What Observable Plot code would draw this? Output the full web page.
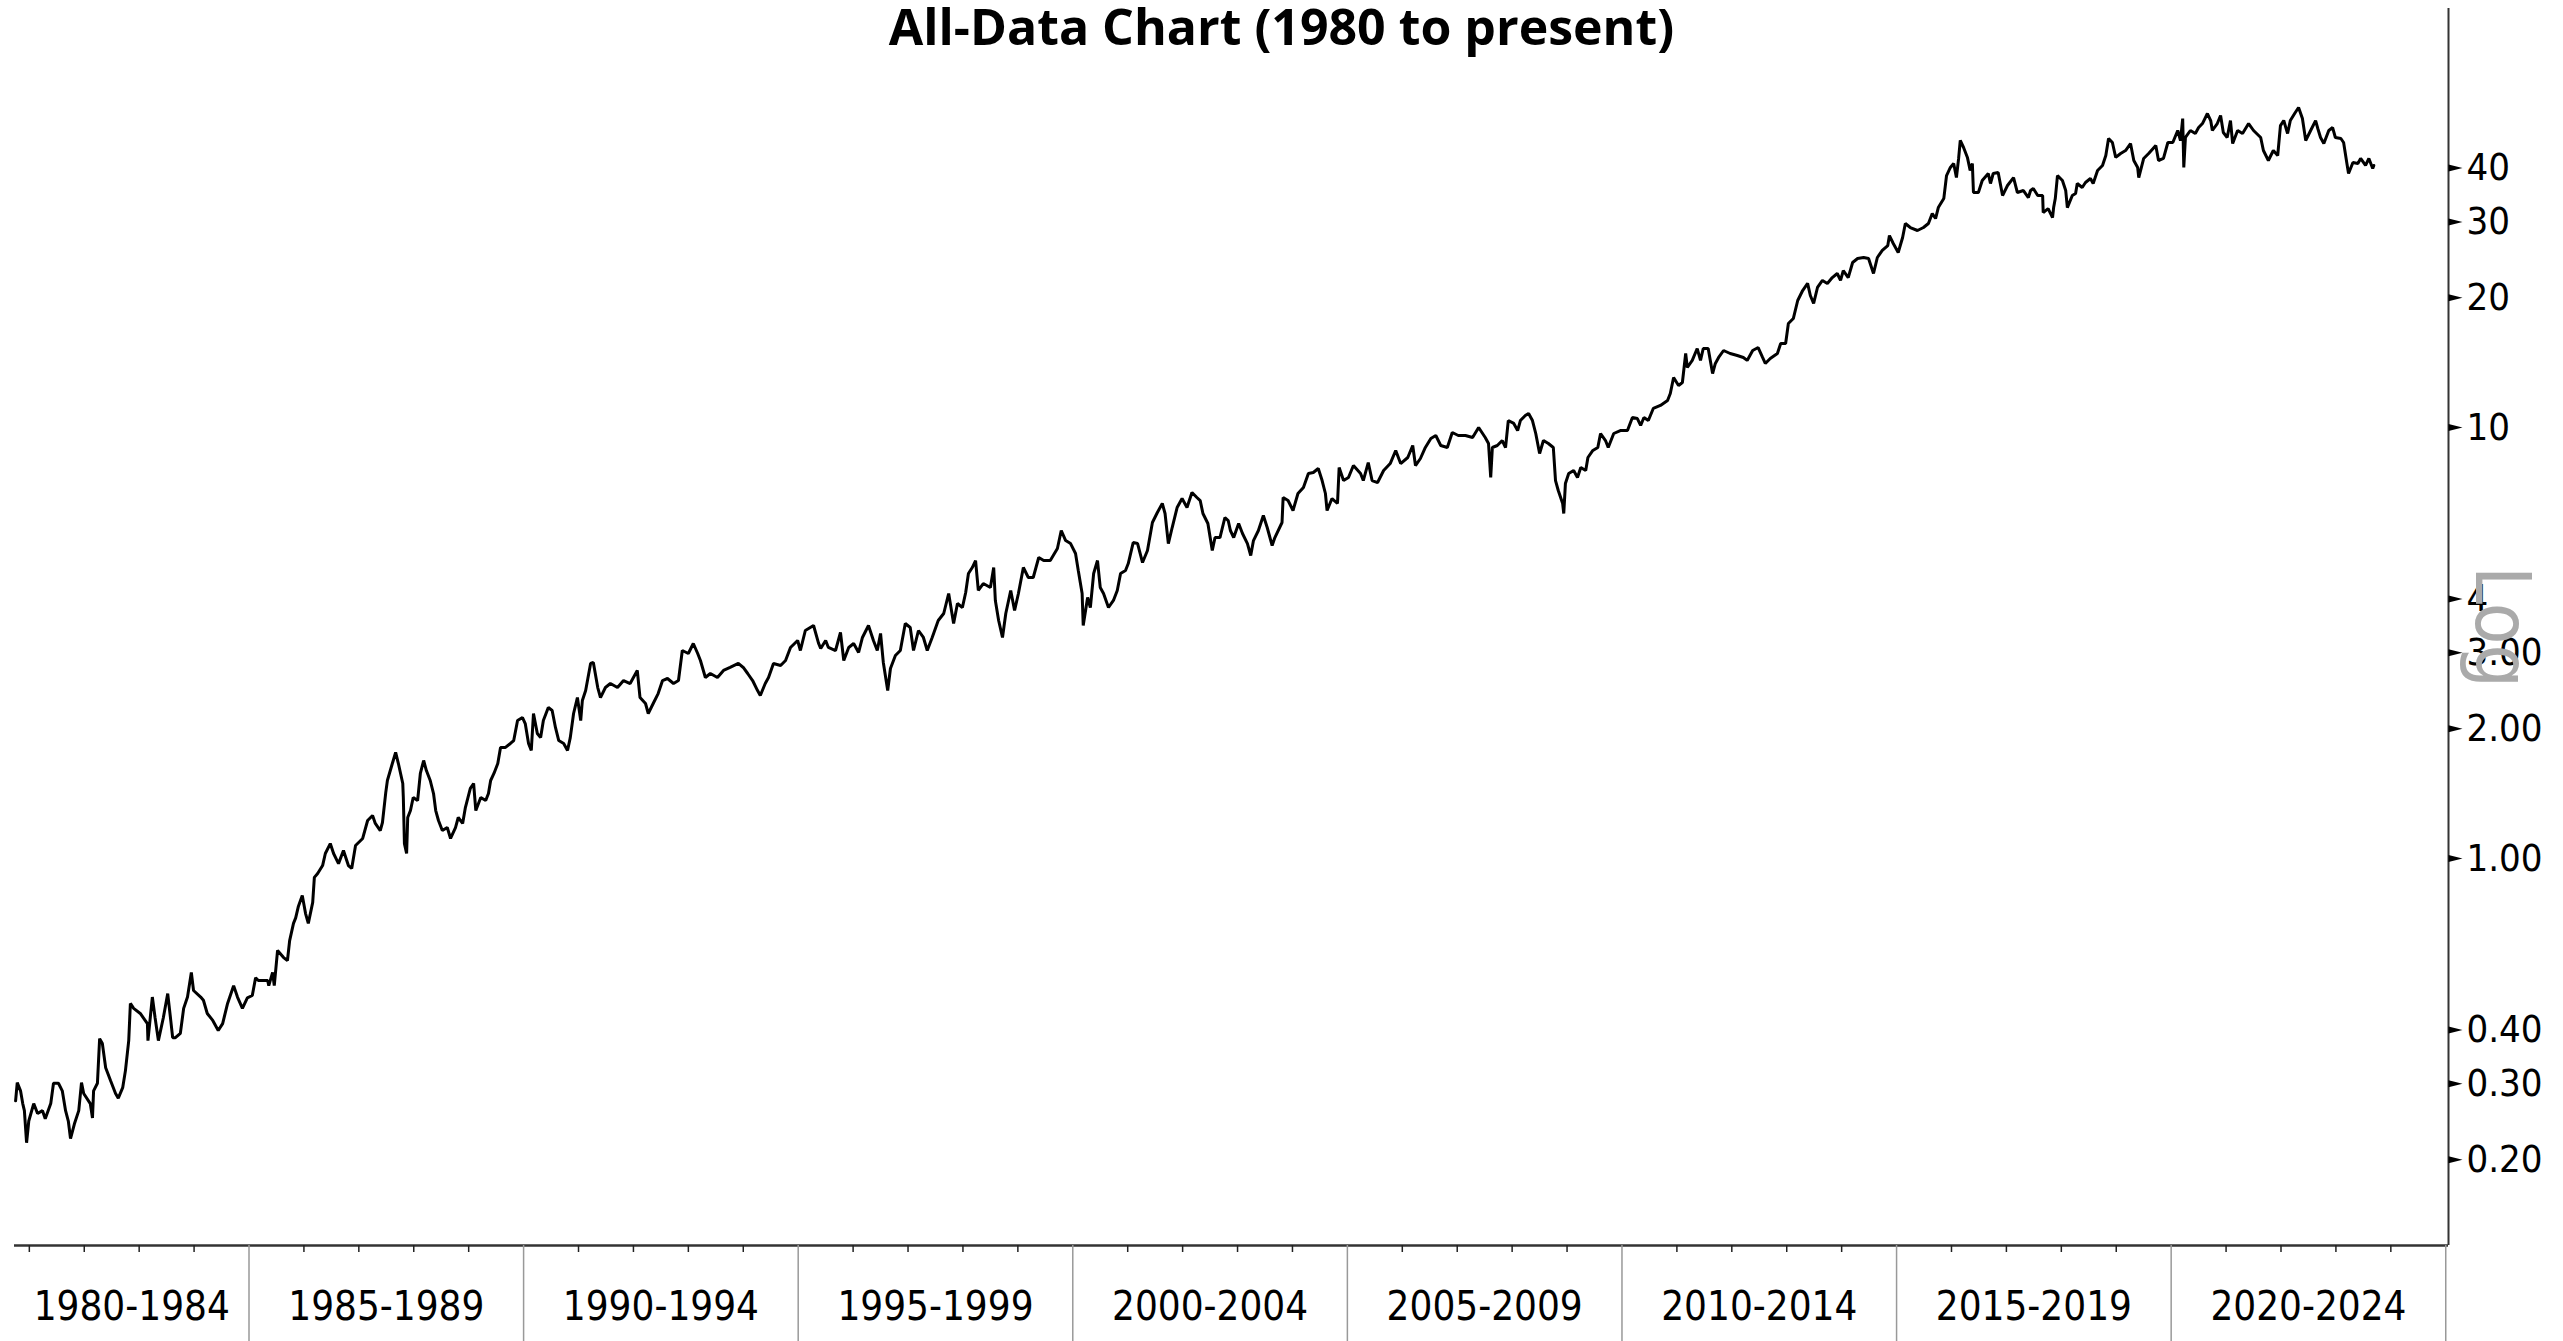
<!DOCTYPE html>
<html>
<head>
<meta charset="utf-8">
<script src="https://cdn.jsdelivr.net/npm/d3@7"></script>
<script src="https://cdn.jsdelivr.net/npm/@observablehq/plot@0.6"></script>
<style>
  html, body { margin: 0; padding: 0; background: #fff; }
  #wrap { position: relative; width: 2563px; height: 1341px; overflow: hidden; }
  #title { position: absolute; left: 0; top: 1px; width: 2563px; text-align: center;
           font-family: "Open Sans", "Liberation Sans", sans-serif; font-weight: 700;
           font-size: 50px; line-height: 50px; color: #000; }
  #chart { position: absolute; left: 0; top: 0; }
</style>
</head>
<body>
<div id="wrap">
  <div id="chart"></div>
  <div id="title"></div>
</div>
<script>
// ---- data (decimal year, price) ----
const years = [
1980.75,1980.78,1980.84,1980.88,1980.91,1980.95,1980.99,1981.08,1981.15,1981.24,1981.29,1981.39,1981.44,1981.53,1981.60,1981.66,1981.71,1981.75,1981.82,1981.90,1981.95,1981.99,
1982.11,1982.15,1982.17,1982.24,1982.28,1982.33,1982.39,1982.48,1982.57,1982.62,1982.70,1982.75,1982.81,1982.84,1982.90,1983.02,1983.15,1983.16,1983.24,1983.29,1983.35,1983.44,1983.52,1983.57,1983.61,1983.66,1983.75,1983.81,1983.88,1983.95,1983.99,
1984.12,1984.17,1984.24,1984.34,1984.44,1984.52,1984.61,1984.72,1984.79,1984.88,1984.97,1985.06,1985.12,1985.17,1985.34,1985.36,1985.43,1985.46,1985.52,1985.63,1985.70,1985.74,1985.81,1985.85,1985.90,1985.97,
1986.03,1986.08,1986.16,1986.19,1986.25,1986.34,1986.39,1986.48,1986.54,1986.63,1986.72,1986.81,1986.87,1986.94,1987.07,1987.16,1987.25,1987.30,1987.39,1987.43,1987.49,1987.52,1987.61,1987.67,1987.72,1987.80,1987.81,1987.83,1987.87,1987.89,
1987.94,1987.99,1988.07,1988.12,1988.18,1988.23,1988.30,1988.36,1988.40,1988.45,1988.52,1988.61,1988.67,1988.76,1988.81,1988.89,1988.94,1989.03,1989.09,1989.13,1989.22,1989.31,1989.36,1989.40,1989.46,1989.53,1989.58,1989.67,1989.76,1989.82,1989.89,1989.98,
1990.03,1990.09,1990.14,1990.18,1990.25,1990.31,1990.36,1990.45,1990.52,1990.58,1990.64,1990.73,1990.80,1990.85,1990.91,1990.98,1991.04,1991.07,1991.13,1991.22,1991.27,1991.35,1991.40,1991.49,1991.58,1991.71,1991.82,1991.94,
1992.07,1992.12,1992.22,1992.27,1992.36,1992.45,1992.53,1992.62,1992.73,1992.82,1992.89,1993.00,1993.09,1993.17,1993.22,1993.31,1993.40,1993.53,1993.64,1993.76,1993.91,1994.00,1994.08,1994.17,1994.26,1994.31,1994.40,1994.46,1994.55,1994.68,1994.77,1994.86,1994.99,
1995.04,1995.13,1995.28,1995.37,1995.41,1995.50,1995.55,1995.68,1995.77,1995.83,1995.92,1996.01,1996.10,1996.17,1996.28,1996.37,1996.44,1996.50,1996.55,1996.63,1996.68,1996.77,1996.86,1996.95,
1997.04,1997.10,1997.19,1997.28,1997.35,1997.44,1997.55,1997.65,1997.74,1997.83,1997.90,1997.99,1998.05,1998.10,1998.17,1998.23,1998.28,1998.37,1998.50,1998.56,1998.59,1998.65,1998.72,1998.78,1998.87,1998.94,
1999.01,1999.10,1999.19,1999.28,1999.38,1999.47,1999.59,1999.72,1999.79,1999.87,1999.96,2000.05,2000.10,2000.17,2000.19,2000.27,2000.32,2000.38,2000.45,2000.50,2000.56,2000.65,2000.74,2000.81,2000.87,2000.96,
2001.01,2001.10,2001.18,2001.27,2001.36,2001.45,2001.54,2001.63,2001.68,2001.74,2001.81,2001.90,2001.99,2002.08,2002.17,2002.26,2002.32,2002.37,2002.46,2002.54,2002.59,2002.68,2002.77,2002.83,
2002.87,2002.93,2003.02,2003.09,2003.18,2003.24,2003.29,2003.38,2003.47,2003.54,2003.63,2003.68,2003.81,2003.83,2003.92,2004.01,2004.10,2004.20,2004.29,2004.38,2004.47,2004.54,2004.60,2004.63,2004.72,2004.82,2004.85,2004.93,
2005.02,2005.11,2005.24,2005.29,2005.38,2005.45,2005.55,2005.66,2005.78,2005.88,2005.97,2006.10,2006.19,2006.24,2006.33,2006.42,2006.52,2006.61,2006.70,2006.82,2006.91,2007.02,2007.15,2007.28,2007.39,2007.51,2007.57,2007.61,2007.64,2007.73,2007.82,2007.88,2007.93,
2008.03,2008.10,2008.15,2008.24,2008.30,2008.37,2008.43,2008.50,2008.57,2008.66,2008.75,2008.79,2008.84,2008.92,2008.94,2008.97,2009.03,2009.12,2009.19,2009.25,2009.34,2009.38,2009.47,2009.56,2009.61,2009.70,2009.75,2009.85,2009.97,
2010.10,2010.19,2010.28,2010.34,2010.40,2010.48,2010.57,2010.70,2010.83,2010.88,2010.94,2011.03,2011.10,2011.16,2011.19,2011.28,2011.37,2011.43,2011.48,2011.57,2011.65,2011.70,2011.76,2011.85,2011.97,
2012.10,2012.21,2012.28,2012.38,2012.48,2012.56,2012.61,2012.70,2012.83,2012.89,2012.98,2013.03,2013.12,2013.20,2013.29,2013.38,2013.43,2013.49,2013.56,2013.65,2013.74,2013.83,2013.92,2013.98,
2014.03,2014.12,2014.20,2014.29,2014.40,2014.49,2014.58,2014.65,2014.74,2014.84,2014.87,2014.94,2015.03,2015.11,2015.16,2015.25,2015.38,2015.49,2015.58,2015.65,2015.71,2015.76,2015.86,2015.91,2015.98,
2016.04,2016.09,2016.13,2016.16,2016.22,2016.29,2016.34,2016.38,2016.40,2016.49,2016.56,2016.67,2016.71,2016.76,2016.85,2016.93,2017.02,2017.13,2017.20,2017.31,2017.40,2017.44,2017.49,2017.57,2017.66,2017.67,2017.76,2017.84,2017.86,2017.89,2017.93,
2018.02,2018.08,2018.11,2018.20,2018.26,2018.29,2018.38,2018.44,2018.53,2018.58,2018.66,2018.75,2018.81,2018.86,2018.93,2018.99,2019.08,2019.17,2019.26,2019.32,2019.39,2019.41,2019.50,2019.59,2019.72,2019.77,2019.86,2019.94,
2020.03,2020.12,2020.17,2020.21,2020.23,2020.26,2020.35,2020.44,2020.50,2020.57,2020.66,2020.72,2020.75,2020.84,2020.90,2020.95,2021.02,2021.08,2021.12,2021.21,2021.30,2021.41,2021.50,2021.63,2021.68,2021.77,2021.86,2021.94,2021.99,
2022.05,2022.12,2022.17,2022.26,2022.32,2022.39,2022.45,2022.54,2022.63,2022.67,2022.72,2022.78,2022.87,2022.94,2022.99,2023.09,2023.14,2023.20,2023.23,2023.31,2023.40,2023.45,2023.54,2023.60,2023.67,2023.69
];
const prices = [
0.274,0.302,0.289,0.270,0.260,0.219,0.246,0.270,0.256,0.260,0.249,0.270,0.301,0.301,0.289,0.260,0.246,0.224,0.242,0.260,0.302,0.285,
0.270,0.250,0.289,0.301,0.382,0.372,0.327,0.305,0.285,0.278,0.294,0.322,0.378,0.461,0.449,0.437,0.414,0.378,0.477,0.427,0.378,0.427,0.486,0.427,0.384,0.384,0.393,0.449,0.477,0.544,0.494,
0.477,0.469,0.437,0.421,0.399,0.414,0.461,0.507,0.477,0.449,0.475,0.481,0.529,0.521,0.521,0.507,0.544,0.507,0.612,0.589,0.580,0.645,0.707,0.728,0.775,0.821,
0.745,0.707,0.791,0.904,0.923,0.963,1.027,1.083,1.027,0.973,1.044,0.963,0.948,1.072,1.113,1.225,1.258,1.206,1.161,1.212,1.422,1.517,1.661,1.762,1.661,1.493,1.385,1.083,1.027,1.245,
1.292,1.385,1.363,1.575,1.688,1.600,1.517,1.415,1.292,1.225,1.161,1.180,1.113,1.180,1.245,1.206,1.313,1.454,1.493,1.292,1.385,1.363,1.415,1.517,1.575,1.661,1.810,1.810,1.849,1.878,2.090,2.124,
2.057,1.849,1.781,2.170,1.950,1.908,2.090,2.240,2.205,2.014,1.878,1.849,1.781,1.908,2.170,2.363,2.090,2.326,2.453,2.835,2.850,2.493,2.363,2.493,2.547,2.493,2.588,2.547,
2.731,2.363,2.289,2.170,2.289,2.414,2.588,2.616,2.547,2.588,3.038,2.990,3.154,2.990,2.880,2.630,2.687,2.630,2.731,2.775,2.835,2.775,2.687,2.588,2.453,2.389,2.547,2.630,2.835,2.804,2.880,3.088,3.205,
3.038,3.381,3.472,3.160,3.071,3.205,3.088,3.038,3.345,2.880,3.088,3.154,3.006,3.257,3.472,3.205,3.038,3.327,2.850,2.453,2.759,2.958,3.038,3.510,
3.436,3.038,3.381,3.257,3.038,3.257,3.566,3.702,4.120,3.510,3.905,3.823,4.143,4.584,4.733,4.913,4.187,4.345,4.255,4.733,3.969,3.566,3.257,3.702,4.187,3.762,
4.120,4.733,4.487,4.487,4.993,4.913,4.913,5.238,5.768,5.467,5.380,5.101,4.658,4.120,3.472,4.033,3.823,4.584,4.913,4.255,4.120,3.823,3.969,4.187,4.584,4.658,
4.835,5.409,5.380,4.861,5.183,6.020,6.350,6.663,6.317,5.380,5.861,6.522,6.843,6.522,7.066,6.880,6.770,6.317,5.988,5.183,5.555,5.555,6.183,6.084,
5.768,5.555,5.988,5.676,5.380,5.047,5.467,5.768,6.249,5.861,5.323,5.555,6.020,6.880,6.770,6.419,7.029,7.259,7.821,7.862,8.032,7.533,7.029,6.419,6.843,6.663,8.075,7.533,
7.656,8.161,7.821,7.533,8.294,7.533,7.453,7.946,8.249,8.845,8.249,8.520,9.084,8.161,8.474,8.988,9.430,9.581,9.084,8.988,9.737,9.581,9.581,9.480,10.00,9.480,9.182,7.656,8.988,9.084,9.328,8.988,10.38,
10.22,9.840,10.38,10.66,10.78,10.38,9.685,8.704,9.328,9.182,8.988,7.533,7.143,6.663,6.317,7.413,7.821,7.946,7.656,8.075,7.946,8.520,8.845,8.988,9.685,9.328,8.988,9.685,9.840,
9.840,10.55,10.49,10.11,10.55,10.38,11.07,11.25,11.55,11.99,13.06,12.52,12.72,14.85,13.78,14.31,15.25,14.31,15.25,15.25,13.34,14.08,14.54,15.09,14.85,
14.69,14.54,14.31,15.09,15.33,14.54,14.08,14.46,14.85,15.66,15.66,17.43,17.90,19.71,20.79,21.59,20.24,19.40,21.13,21.94,21.59,22.28,22.77,21.94,
23.13,22.28,24.15,24.67,24.80,24.67,22.77,24.80,25.75,26.44,27.89,26.73,25.47,27.60,29.74,29.11,28.65,29.11,29.74,31.36,30.54,32.38,33.98,38.43,40.12,
40.99,38.02,42.10,46.34,44.64,42.33,39.48,40.99,35.09,35.09,37.42,38.85,36.83,38.85,39.06,34.53,36.43,38.02,35.09,35.47,34.16,35.47,35.85,34.53,34.53,31.53,32.21,30.70,32.38,33.98,38.43,
37.42,35.47,32.38,34.53,34.91,36.83,36.05,37.03,37.82,36.83,39.48,40.55,42.77,46.83,45.84,42.33,43.23,43.92,45.60,41.64,40.12,38.02,42.10,43.23,45.11,41.64,42.10,45.84,
45.84,48.88,46.34,52.10,40.12,47.09,48.88,48.10,49.66,50.73,53.52,51.55,48.88,50.73,52.96,48.36,47.09,51.55,45.60,48.88,48.10,50.73,48.88,47.09,43.92,41.64,43.92,42.77,50.19,
51.55,48.10,51.55,53.81,55.26,52.10,46.34,48.88,51.55,49.40,47.09,45.60,48.88,49.66,47.09,46.83,45.84,40.99,38.85,41.20,40.99,42.10,40.55,42.10,39.90,40.55
];

// axis content
const yTickValues = [0.2, 0.3, 0.4, 1, 2, 3, 4, 10, 20, 30, 40];
const yTickLabels = ["0.20", "0.30", "0.40", "1.00", "2.00", "3.00", "4", "10", "20", "30", "40"];
const groupStarts = [1980, 1985, 1990, 1995, 2000, 2005, 2010, 2015, 2020];
const groupLabels = ["1980-1984", "1985-1989", "1990-1994", "1995-1999", "2000-2004", "2005-2009", "2010-2014", "2015-2019", "2020-2024"];
const title = "All-Data Chart (1980 to present)";
const axisLabel = "Log";

// scale domains
const xDomain = [1980.73, 2025.05];
const yDomain = [0.1265, 93.8];

// ---- build ----
const data = years.map((y, i) => ({year: y, price: prices[i]}));
const yTicks = yTickValues.map((v, i) => ({value: v, label: yTickLabels[i]}));
const groupEdges = groupStarts.slice(1).concat([groupStarts[groupStarts.length - 1] + 5]);
const minorYears = d3.range(1981, 2025).filter(y => y % 5 !== 0);
const groups = groupStarts.map((s, i) => ({
  label: groupLabels[i],
  mid: (Math.max(s, xDomain[0]) + Math.min(s + 5, xDomain[1])) / 2
}));

const wedge = {
  draw(ctx, size) {
    const r = Math.sqrt(size / Math.PI);
    ctx.moveTo(0, -0.7 * r);
    ctx.lineTo(2.8 * r, 0);
    ctx.lineTo(0, 0.7 * r);
    ctx.closePath();
  }
};

const tickFont = '"DejaVu Sans Condensed", "DejaVu Sans", sans-serif';

const chart = Plot.plot({
  width: 2563,
  height: 1341,
  marginTop: 8,
  marginBottom: 96,
  marginLeft: 14,
  marginRight: 115,
  x: {type: "linear", domain: xDomain},
  y: {type: "log", domain: yDomain, axis: null},
  style: {background: "#fff", fontFamily: tickFont, overflow: "visible", color: "#000"},
  marks: [
    Plot.line(data, {x: "year", y: "price", stroke: "#000", strokeWidth: 3, strokeLinejoin: "miter"}),
    Plot.ruleY([yDomain[0]], {stroke: "#333", strokeWidth: 2.5}),
    Plot.ruleX([xDomain[1]], {stroke: "#333", strokeWidth: 2}),
    Plot.axisX({ticks: minorYears, tickSize: 7, tickFormat: () => "", stroke: "#222", strokeWidth: 1.5, label: null}),
    Plot.axisX({ticks: groupEdges, tickSize: 96, tickFormat: () => "", stroke: "#999", strokeWidth: 1.5, label: null}),
    Plot.text(groups, {x: "mid", text: "label", frameAnchor: "bottom", dy: 74, fontSize: 40, fill: "#000", fontFamily: tickFont}),
    Plot.dot(yTicks, {x: () => xDomain[1], y: "value", symbol: wedge, r: 5, fill: "#000", stroke: null}),
    Plot.text(yTicks, {y: "value", text: "label", frameAnchor: "right", dx: 18, textAnchor: "start", fontSize: 38, fill: "#000", fontFamily: tickFont}),
    Plot.text([axisLabel], {frameAnchor: "right", dx: 27, rotate: 90, textAnchor: "middle", lineAnchor: "bottom", fontSize: 76, fill: "#aaa", fontFamily: tickFont})
  ]
});
document.getElementById("chart").appendChild(chart);
document.getElementById("title").textContent = title;
</script>
</body>
</html>
